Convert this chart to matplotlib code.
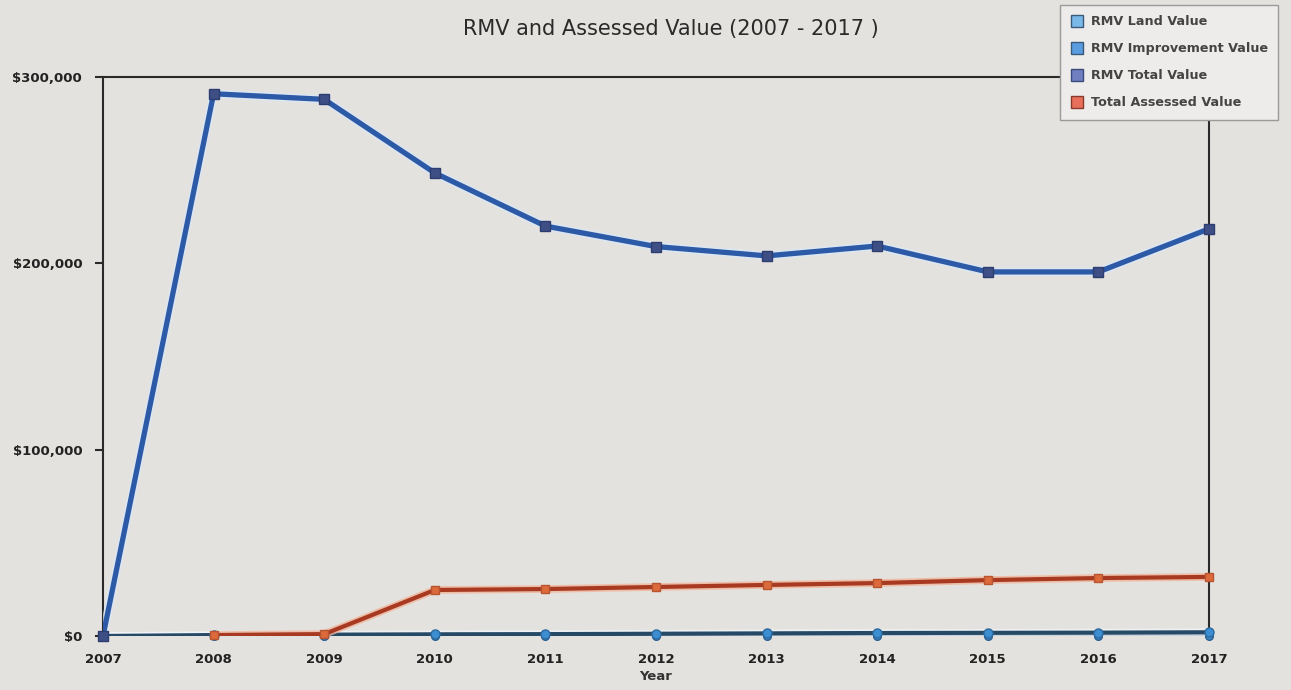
import numpy as np
import matplotlib
matplotlib.use("Agg")
import matplotlib.pyplot as plt
from matplotlib.ticker import FuncFormatter
from matplotlib.lines import Line2D
import matplotlib.patheffects as pe

years = [2007, 2008, 2009, 2010, 2011, 2012, 2013, 2014, 2015, 2016, 2017]
rmv_land = [0, 500, 700, 900, 1000, 1200, 1400, 1600, 1700, 1800, 2000]
rmv_improvement = [0, 0, 0, 0, 0, 0, 0, 0, 0, 0, 0]
rmv_total = [0, 291000, 288000, 248500, 220000, 209000, 204000, 209300, 195400, 195400, 218500]
total_assessed = [np.nan, 500, 1000, 24700, 25200, 26300, 27400, 28400, 30000, 31100, 31700]

legend_labels = ["RMV Land Value", "RMV Improvement Value", "RMV Total Value", "Total Assessed Value"]

bg = "#e4e2de"
fig = plt.figure(figsize=(12.91, 6.90), dpi=100, facecolor=bg)
ax = fig.add_axes([103 / 1291, 1 - 636 / 690, (1209 - 103) / 1291, (636 - 77) / 690])
ax.set_facecolor(bg)


def series(y, line_color, halo_color, lw, marker, ms, mfc, mec, z):
    ax.plot(years, y, color=line_color, lw=lw, zorder=z, solid_capstyle="round",
            path_effects=[pe.Stroke(linewidth=lw + 2.5, foreground=halo_color, alpha=0.8),
                          pe.Normal()])
    ax.plot(years, y, ls="none", marker=marker, ms=ms, mfc=mfc, mec=mec, mew=1,
            zorder=z + 0.5, clip_on=False)


series(rmv_improvement, "#2b4f78", "#f4f6fa", 3, "o", 5.5, "#3d86c8", "#2b5f90", 3)
series(rmv_land, "#264a66", "#f0f4f8", 3, "o", 6.5, "#3d8ed0", "#2b6aa0", 4)
series(total_assessed, "#a83a22", "#f0b49a", 3, "s", 6, "#dc6a3a", "#b85530", 5)
series(rmv_total, "#2d5aa6", "#dbe8f6", 3.8, "s", 6.5, "#3e4f86", "#2e3d70", 6)

ax.set_xlim(2007, 2017)
ax.set_ylim(0, 300000)
ax.set_xticks(years)
ax.set_yticks([0, 100000, 200000, 300000])
ax.yaxis.set_major_formatter(FuncFormatter(lambda v, p: "${:,.0f}".format(v)))

for s in ["left", "top", "right"]:
    ax.spines[s].set_color("#2a2a2a")
    ax.spines[s].set_linewidth(1.5)
ax.spines["bottom"].set_visible(False)
ax.tick_params(axis="y", length=6, width=1.5, color="#2a2a2a", labelsize=9.5, pad=9)
ax.tick_params(axis="x", length=0, labelsize=9.5, pad=12)
for lab in ax.get_xticklabels() + ax.get_yticklabels():
    lab.set_fontweight("bold")
    lab.set_color("#222222")
ax.set_xlabel("Year", fontsize=9.5, fontweight="bold", color="#333333", labelpad=3)

fig.text(0.52, 0.958, "RMV and Assessed Value (2007 - 2017 )", ha="center", va="center",
         fontsize=15, color="#2a2a2a")

handles = [
    Line2D([], [], ls="none", marker="s", ms=9, mfc="#7ab8ea", mec="#3a5a7a"),
    Line2D([], [], ls="none", marker="s", ms=9, mfc="#5a9ce0", mec="#3a5a7a"),
    Line2D([], [], ls="none", marker="s", ms=9, mfc="#6f7fc0", mec="#3a4a7a"),
    Line2D([], [], ls="none", marker="s", ms=9, mfc="#e8705a", mec="#8a3a2a"),
]
leg = fig.legend(handles, legend_labels, loc="upper left",
                 bbox_to_anchor=(1060 / 1291, 1 - 5 / 690), fontsize=9.2,
                 frameon=True, fancybox=False, framealpha=1, edgecolor="#9a9a9a",
                 facecolor="#eeecea", handletextpad=0.6, labelspacing=1.1,
                 borderpad=0.8, borderaxespad=0, handlelength=1.0)
for t in leg.get_texts():
    t.set_color("#444444")
    t.set_fontweight("bold")

fig.savefig("out.png", dpi=100, facecolor=bg)
